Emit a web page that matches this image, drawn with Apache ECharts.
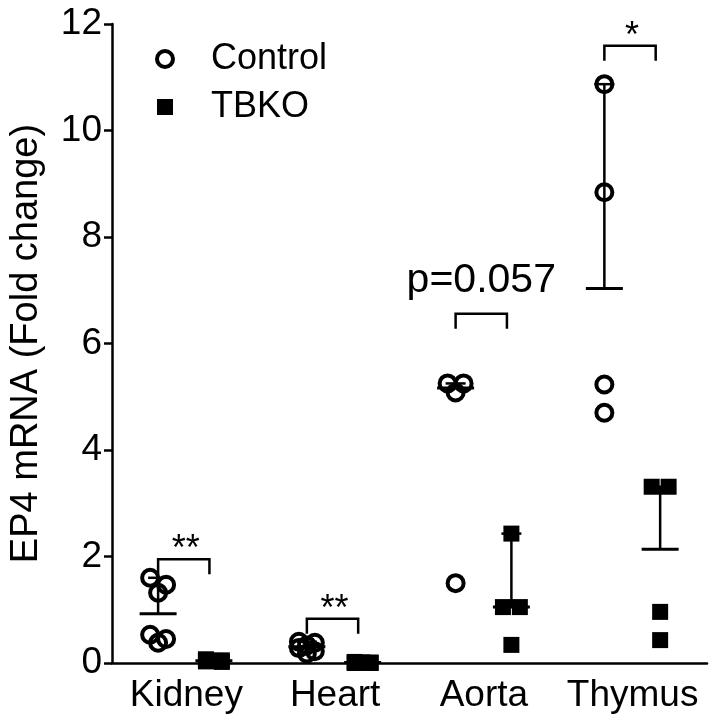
<!DOCTYPE html>
<html>
<head>
<meta charset="utf-8">
<script src="https://cdn.jsdelivr.net/npm/echarts@6/dist/echarts.min.js"></script>
<style>
html,body{margin:0;padding:0;background:#fff;}
#c{width:709px;height:726px;}
</style>
</head>
<body>
<div id="c"></div>
<script>
// ---- data ----
const categories = ['Kidney', 'Heart', 'Aorta', 'Thymus'];
const controlValues = [
  [1.60, 1.47, 1.32, 0.53, 0.45, 0.38],
  [0.40, 0.38, 0.33, 0.28, 0.22, 0.18],
  [5.25, 5.25, 5.08, 1.50],
  [10.87, 8.84, 5.23, 4.70]
];
const tbkoValues = [
  [0.07, 0.05, 0.04, 0.03, 0.02],
  [0.02, 0.01, 0.01, 0.00, 0.00],
  [2.43, 1.05, 1.05, 0.34],
  [3.31, 3.31, 0.96, 0.43]
];
const bracketTop = [1.95, 0.83, 6.56, 11.59];
const bracketLabels = ['**', '**', 'p=0.057', '*'];
const yTicks = [0, 2, 4, 6, 8, 10, 12];

// ---- layout helpers ----
const W = 709, H = 726;
const GRID = {left: 110, right: 2, top: 24, bottom: 63};
const pxX = (W - GRID.left - GRID.right) / categories.length;
const pxY = (H - GRID.top - GRID.bottom) / 12;
const CTRL_OFF = -0.19, TBKO_OFF = 0.185;
const FONT = '"Liberation Sans", Arial, Helvetica, sans-serif';

function median(a) {
  const s = a.slice().sort((p, q) => p - q);
  const n = s.length;
  return n % 2 ? s[(n - 1) / 2] : (s[n / 2 - 1] + s[n / 2]) / 2;
}
// spread points that sit close together (in pixels) side by side
function swarm(vals, center) {
  const order = vals.map((v, i) => i).sort((a, b) => vals[b] - vals[a]);
  const clusters = [];
  let cur = [];
  order.forEach((i, k) => {
    if (k > 0 && (vals[order[k - 1]] - vals[i]) * pxY >= 14) { clusters.push(cur); cur = []; }
    cur.push(i);
  });
  if (cur.length) clusters.push(cur);
  const out = new Array(vals.length);
  clusters.forEach(cl => {
    const n = cl.length;
    cl.forEach((i, k) => {
      let off = 0;
      if (n === 2) off = k === 0 ? -8.5 : 8.5;
      else if (n > 2) off = [-1, 1, 0][k % 3] * 8;
      out[i] = [center + off / pxX, vals[i]];
    });
  });
  return out;
}

const ctrlPts = [], tbkoPts = [], bars = [], brackets = [];
categories.forEach((c, g) => {
  const cx = g + 0.5 + CTRL_OFF, tx = g + 0.5 + TBKO_OFF;
  ctrlPts.push(...swarm(controlValues[g], cx));
  tbkoPts.push(...swarm(tbkoValues[g], tx));
  bars.push([cx, median(controlValues[g]), Math.max(...controlValues[g])]);
  bars.push([tx, median(tbkoValues[g]), Math.max(...tbkoValues[g])]);
  brackets.push([g + 0.5 + CTRL_OFF, g + 0.5 + 0.155, bracketTop[g], g]);
});

const chart = echarts.init(document.getElementById('c'), null, {renderer: 'canvas'});
const axisStyle = {color: '#000', width: 2.5};

chart.setOption({
  backgroundColor: '#fff',
  animation: false,
  textStyle: {fontFamily: FONT},
  grid: GRID,
  legend: {
    orient: 'vertical',
    left: 150,
    top: 36,
    itemWidth: 16,
    itemHeight: 16,
    itemGap: 12,
    data: [
      {name: 'Control', itemStyle: {color: 'rgba(0,0,0,0)', borderColor: '#000', borderWidth: 4}},
      {name: 'TBKO', itemStyle: {color: '#000', borderWidth: 0}}
    ],
    textStyle: {fontSize: 36, color: '#000', fontFamily: FONT, padding: [0, 0, 0, 33]}
  },
  xAxis: [{
    type: 'category',
    data: categories,
    axisLine: {lineStyle: axisStyle},
    axisTick: {alignWithLabel: true, length: 8, lineStyle: axisStyle},
    axisLabel: {interval: 0, fontSize: 37, color: '#000', margin: 14, fontFamily: FONT}
  }, {
    type: 'value', min: 0, max: categories.length, show: false
  }],
  yAxis: {
    type: 'value',
    min: 0, max: 12, interval: 2,
    name: 'EP4 mRNA (Fold change)',
    nameLocation: 'middle',
    nameGap: 66,
    nameTextStyle: {fontSize: 38, color: '#000', fontFamily: FONT},
    axisLine: {show: true, lineStyle: axisStyle},
    axisTick: {show: true, length: 8, lineStyle: axisStyle},
    splitLine: {show: false},
    axisLabel: {fontSize: 37, color: '#000', margin: 10, fontFamily: FONT,
      formatter: v => yTicks.indexOf(v) >= 0 ? String(v) : ''}
  },
  series: [{
    type: 'custom',
    name: 'bars',
    xAxisIndex: 1,
    z: 1,
    data: bars,
    renderItem: (params, api) => {
      const x = api.value(0), m = api.value(1), mx = api.value(2);
      const pm = api.coord([x, m]), pt = api.coord([x, mx]);
      return {type: 'group', children: [
        {type: 'line', shape: {x1: pm[0] - 18.5, y1: pm[1], x2: pm[0] + 18.5, y2: pm[1]}, style: {stroke: '#000', lineWidth: 3}},
        {type: 'line', shape: {x1: pm[0], y1: pm[1], x2: pt[0], y2: pt[1]}, style: {stroke: '#000', lineWidth: 2.5}},
        {type: 'line', shape: {x1: pt[0] - 10, y1: pt[1], x2: pt[0] + 10, y2: pt[1]}, style: {stroke: '#000', lineWidth: 2.5}}
      ]};
    }
  }, {
    type: 'custom',
    name: 'brackets',
    xAxisIndex: 1,
    z: 3,
    data: brackets,
    renderItem: (params, api) => {
      const x1 = api.value(0), x2 = api.value(1), top = api.value(2), g = api.value(3);
      const a = api.coord([x1, top]), b = api.coord([x2, top]);
      const leg = 15;
      const lab = bracketLabels[g];
      const isP = lab.indexOf('p') === 0;
      return {type: 'group', children: [
        {type: 'polyline', shape: {points: [[a[0], a[1] + leg], [a[0], a[1]], [b[0], b[1]], [b[0], b[1] + leg]]},
          style: {stroke: '#000', lineWidth: 2.5, fill: null}},
        {type: 'text', x: (a[0] + b[0]) / 2 + (isP ? 0 : 2), y: a[1] - (isP ? 12 : -9),
          style: {text: lab, fontSize: isP ? 41 : 36, fontFamily: FONT, fill: '#000',
            align: 'center', verticalAlign: 'bottom'}}
      ]};
    }
  }, {
    type: 'scatter',
    name: 'Control',
    xAxisIndex: 1,
    z: 2,
    symbol: 'circle',
    symbolSize: 16,
    itemStyle: {color: 'rgba(0,0,0,0)', borderColor: '#000', borderWidth: 4, opacity: 1},
    data: ctrlPts
  }, {
    type: 'scatter',
    name: 'TBKO',
    xAxisIndex: 1,
    z: 2,
    symbol: 'rect',
    symbolSize: 16,
    itemStyle: {color: '#000', opacity: 1},
    data: tbkoPts
  }]
});
</script>
</body>
</html>
